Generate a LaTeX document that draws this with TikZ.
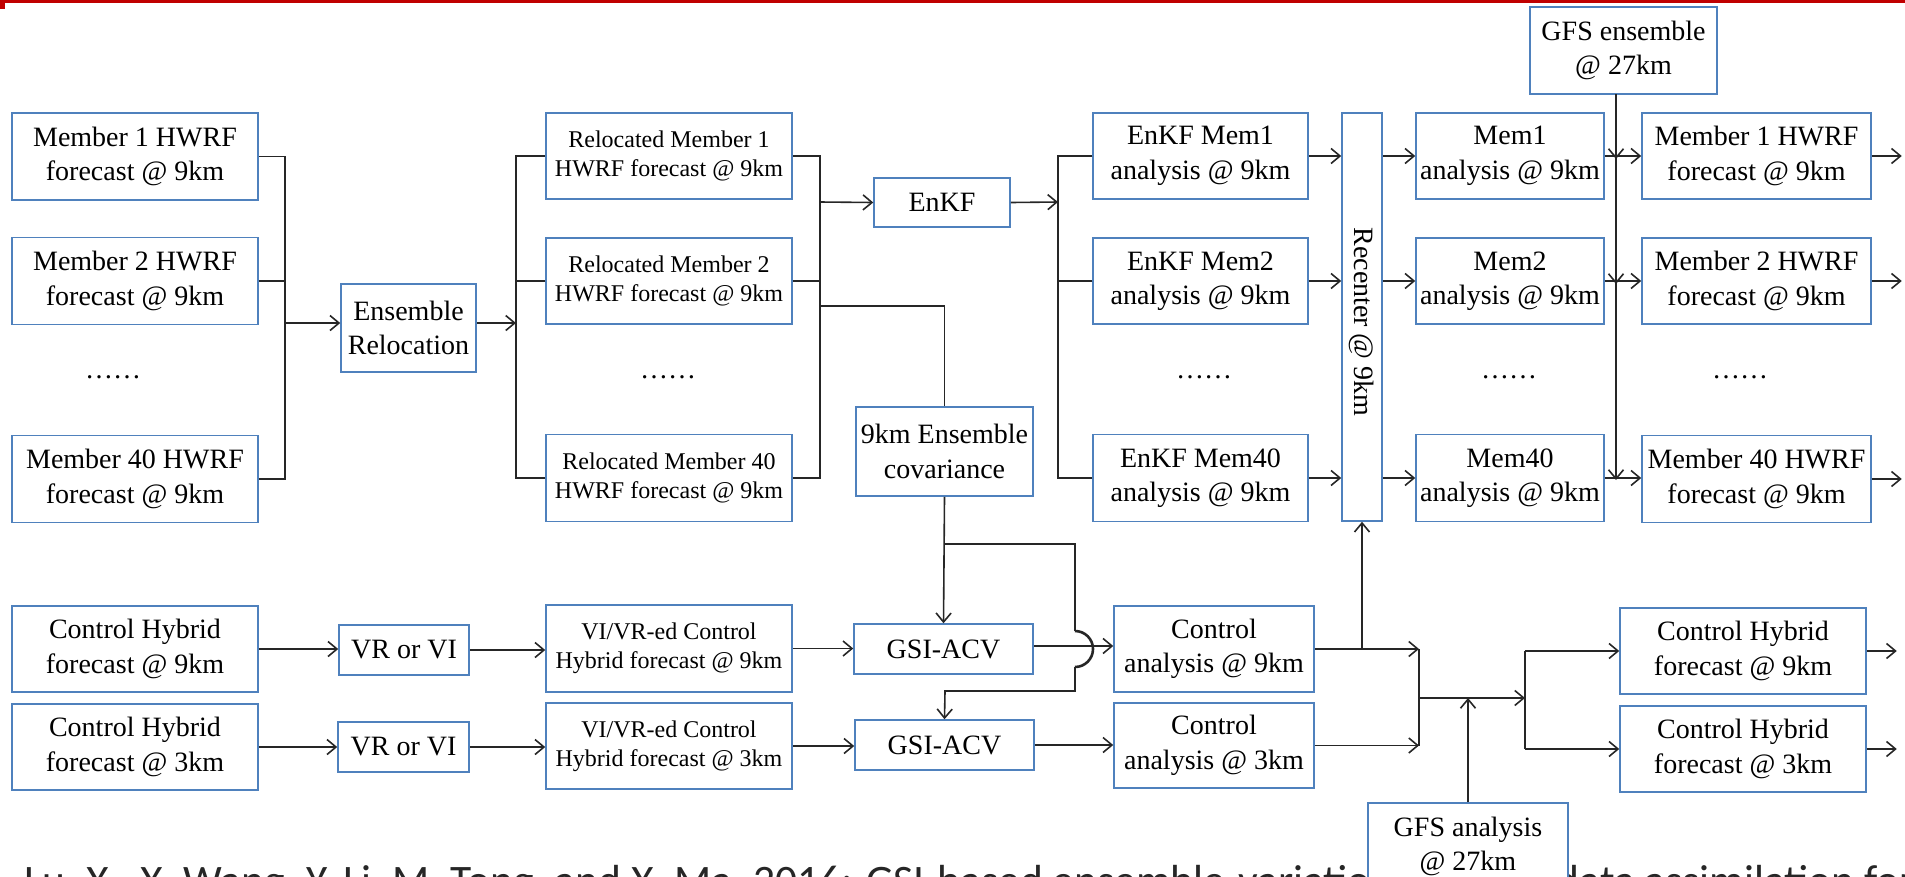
\documentclass[tikz,border=0pt]{standalone}
\usepackage{fontspec}
\setmainfont{Liberation Serif}
\newfontfamily\citefont{Carlito}
\usetikzlibrary{arrows.meta,calc}
\definecolor{boxblue}{RGB}{79,129,189}
\definecolor{linegray}{RGB}{38,38,38}
\definecolor{topred}{RGB}{192,0,0}
\newcommand\bigtxt{\fontsize{28}{34.5}\selectfont}
\newcommand\smalltxt{\fontsize{24}{29}\selectfont}
\begin{document}
\begin{tikzpicture}[x=1pt,y=-1pt,
  box/.style={draw=boxblue, line width=1.5pt, fill=white, align=center, inner sep=0pt, font=\bigtxt},
  sbox/.style={box, font=\smalltxt},
  conn/.style={draw=linegray, line width=1.6pt},
  arr/.style={conn, -{Straight Barb[length=9pt,width=15pt]}},
  dotrow/.style={inner sep=0pt, font=\bigtxt},
]
\useasboundingbox (0,0) rectangle (1905,876);
\fill[topred] (0,0) rectangle (1905,3);
\fill[topred] (0,0) rectangle (5,9);

\begin{scope}
\clip (0,0) rectangle (1905,876);
\node[anchor=base west, inner sep=0pt, font=\citefont\fontsize{43.5}{43.5}\selectfont, text=black!85] (cite) at (24,895) {Lu, X., X. Wang, Y. Li, M. Tong, and X. Ma, 2016: GSI-based ensemble-variational hybrid data assimilation for};
\end{scope}

% column 1
\node[box, minimum width=246pt, minimum height=87pt] (m1) at (135,156.5) {Member 1 HWRF\\forecast @ 9km};
\node[box, minimum width=246pt, minimum height=87pt] (m2) at (135,281) {Member 2 HWRF\\forecast @ 9km};
\node[dotrow] (d1) at (113,377) {……};
\node[box, minimum width=246pt, minimum height=87pt] (m40) at (135,479) {Member 40 HWRF\\forecast @ 9km};

\node[box, minimum width=135pt, minimum height=88pt] (er) at (408.5,328) {Ensemble\\Relocation};

\node[sbox, minimum width=246pt, minimum height=86pt] (r1) at (669,156) {Relocated Member 1\\HWRF forecast @ 9km};
\node[sbox, minimum width=246pt, minimum height=86pt] (r2) at (669,281) {Relocated Member 2\\HWRF forecast @ 9km};
\node[dotrow] (d2) at (668,377) {……};
\node[sbox, minimum width=246pt, minimum height=87pt] (r40) at (669,478) {Relocated Member 40\\HWRF forecast @ 9km};

\node[box, minimum width=136pt, minimum height=49pt] (enkf) at (942,202.5) {EnKF};
\node[box, minimum width=177pt, minimum height=89pt] (cov) at (944.5,451.5) {9km Ensemble\\covariance};

\node[box, minimum width=215pt, minimum height=86pt] (e1) at (1200.5,156) {EnKF Mem1\\analysis @ 9km};
\node[box, minimum width=215pt, minimum height=86pt] (e2) at (1200.5,281) {EnKF Mem2\\analysis @ 9km};
\node[dotrow] (d3) at (1204,377) {……};
\node[box, minimum width=215pt, minimum height=87pt] (e40) at (1200.5,478) {EnKF Mem40\\analysis @ 9km};

\node[box, minimum width=40pt, minimum height=408pt] (rc) at (1362,317) {};
\node[rotate=-90, inner sep=0pt, font=\bigtxt] (rclabel) at (1362,322) {Recenter @ 9km};

\node[box, minimum width=188pt, minimum height=86pt] (a1) at (1510,156) {Mem1\\analysis @ 9km};
\node[box, minimum width=188pt, minimum height=86pt] (a2) at (1510,281) {Mem2\\analysis @ 9km};
\node[dotrow] (d4) at (1509,377) {……};
\node[box, minimum width=188pt, minimum height=87pt] (a40) at (1510,478) {Mem40\\analysis @ 9km};

\node[box, minimum width=187pt, minimum height=87pt] (ge) at (1623.5,50.5) {GFS ensemble\\@ 27km};

\node[box, minimum width=229pt, minimum height=86pt] (f1) at (1756.5,156) {Member 1 HWRF\\forecast @ 9km};
\node[box, minimum width=229pt, minimum height=86pt] (f2) at (1756.5,281) {Member 2 HWRF\\forecast @ 9km};
\node[dotrow] (d5) at (1740,377) {……};
\node[box, minimum width=229pt, minimum height=87pt] (f40) at (1756.5,479) {Member 40 HWRF\\forecast @ 9km};

% bottom rows
\node[box, minimum width=246pt, minimum height=86pt] (ch9) at (135,649) {Control Hybrid\\forecast @ 9km};
\node[box, minimum width=246pt, minimum height=86pt] (ch3) at (135,747) {Control Hybrid\\forecast @ 3km};
\node[box, minimum width=130pt, minimum height=50pt] (vr9) at (404,650) {VR or VI};
\node[box, minimum width=131pt, minimum height=50pt] (vr3) at (403.5,747) {VR or VI};
\node[sbox, minimum width=246pt, minimum height=87pt] (vi9) at (669,648.5) {VI/VR-ed Control\\Hybrid forecast @ 9km};
\node[sbox, minimum width=246pt, minimum height=86pt] (vi3) at (669,746) {VI/VR-ed Control\\Hybrid forecast @ 3km};
\node[box, minimum width=179pt, minimum height=50pt] (g9) at (943.5,649) {GSI-ACV};
\node[box, minimum width=179pt, minimum height=50pt] (g3) at (944.5,745) {GSI-ACV};
\node[box, minimum width=200pt, minimum height=86pt] (ca9) at (1214,649) {Control\\analysis @ 9km};
\node[box, minimum width=200pt, minimum height=85pt] (ca3) at (1214,745.5) {Control\\analysis @ 3km};
\node[box, minimum width=246pt, minimum height=86pt] (cr9) at (1743,651) {Control Hybrid\\forecast @ 9km};
\node[box, minimum width=246pt, minimum height=86pt] (cr3) at (1743,749) {Control Hybrid\\forecast @ 3km};
\node[box, minimum width=200pt, minimum height=87pt] (ga) at (1468,846.5) {GFS analysis\\@ 27km};

% junction coordinates
\coordinate (b1) at (285,323);
\coordinate (b2) at (516,323);
\coordinate (b3) at (820,202);
\coordinate (b3c) at (820,306);
\coordinate (b4) at (1058,202);
\coordinate (gl) at (1616,94);
\coordinate (cv) at (945,544);
\coordinate (jx) at (1075,631);
\coordinate (j5) at (1419,698);
\coordinate (j6) at (1525,698);

% bracket 1
\draw[conn] (m1.east) -| (b1);
\draw[conn] (m40.east) -| (b1);
\draw[conn] (m2.east) -- (m2.east -| b1);
\draw[arr] (b1) -- (b1 -| er.west);
% bracket 2
\draw[arr] (er.east |- b2) -- (b2);
\draw[conn] (r1.west) -| (b2);
\draw[conn] (r40.west) -| (b2);
\draw[conn] (r2.west) -- (r2.west -| b2);
% bracket 3
\draw[conn] (r1.east) -| (b3);
\draw[conn] (r40.east) -| (b3);
\draw[conn] (r2.east) -- (r2.east -| b3);
\draw[arr] (b3) -- (enkf.west);
\draw[conn] (b3c) -| (cov.north);
% bracket 4
\draw[arr] (enkf.east) -- (b4);
\draw[conn] (e1.west) -| (b4);
\draw[conn] (e40.west) -| (b4);
\draw[conn] (e2.west) -- (e2.west -| b4);
% to recenter and beyond
\foreach \s in {1,2,40}{
  \draw[arr] (e\s.east) -- (e\s.east -| rc.west);
  \draw[arr] (a\s.west -| rc.east) -- (a\s.west);
  \draw[arr] (a\s.east) -- (f\s.west |- a\s.east);
  \draw[arr] (f\s.east) -- ++(30,0);
}
\draw[conn] (gl) -- (gl |- a1.east);
\draw[arr] (gl) -- ([yshift=-3pt]gl |- a1.east);
\draw[arr] (gl) -- ([yshift=-3pt]gl |- a2.east);
\draw[arr] (gl) -- ([yshift=-2pt]gl |- a40.east);

% bottom rows
\draw[arr] (ch9.east) -- (ch9.east -| vr9.west);
\draw[arr] (ch3.east) -- (ch3.east -| vr3.west);
\draw[arr] (vr9.east) -- (vr9.east -| vi9.west);
\draw[arr] (vr3.east) -- (vr3.east -| vi3.west);
\draw[arr] (vi9.east) -- (vi9.east -| g9.west);
\draw[arr] (vi3.east) -- (vi3.east -| g3.west);
\draw[arr] ([yshift=3pt]g9.east) -- ([yshift=3pt]g9.east -| ca9.west);
\draw[arr] (g3.east) -- (g3.east -| ca3.west);
\draw[arr] (cov.south) -- (g9.north);
\draw[conn] (cv) -| (jx);
\draw[conn, line width=2.6pt] (jx) arc (90:-90:18pt) coordinate (jy);
\draw[arr] (jy) |- (945,691) -- (g3.north);
% merge of control analyses
\draw[arr] (ca9.east) -- (ca9.east -| j5);
\draw[arr] (ca3.east) -- (ca3.east -| j5);
\draw[conn] (ca9.east -| j5) -- (ca3.east -| j5);
\draw[arr] (rc.south |- ca9.east) -- (rc.south);
\draw[arr] (j5) -- (j6);
\draw[arr] (ga.north) -- (ga.north |- j6);
\draw[conn] (j6 |- cr9.west) -- (j6 |- cr3.west);
\draw[arr] (j6 |- cr9.west) -- (cr9.west);
\draw[arr] (j6 |- cr3.west) -- (cr3.west);
\draw[arr] (cr9.east) -- ++(30,0);
\draw[arr] (cr3.east) -- ++(30,0);
\end{tikzpicture}
\end{document}
